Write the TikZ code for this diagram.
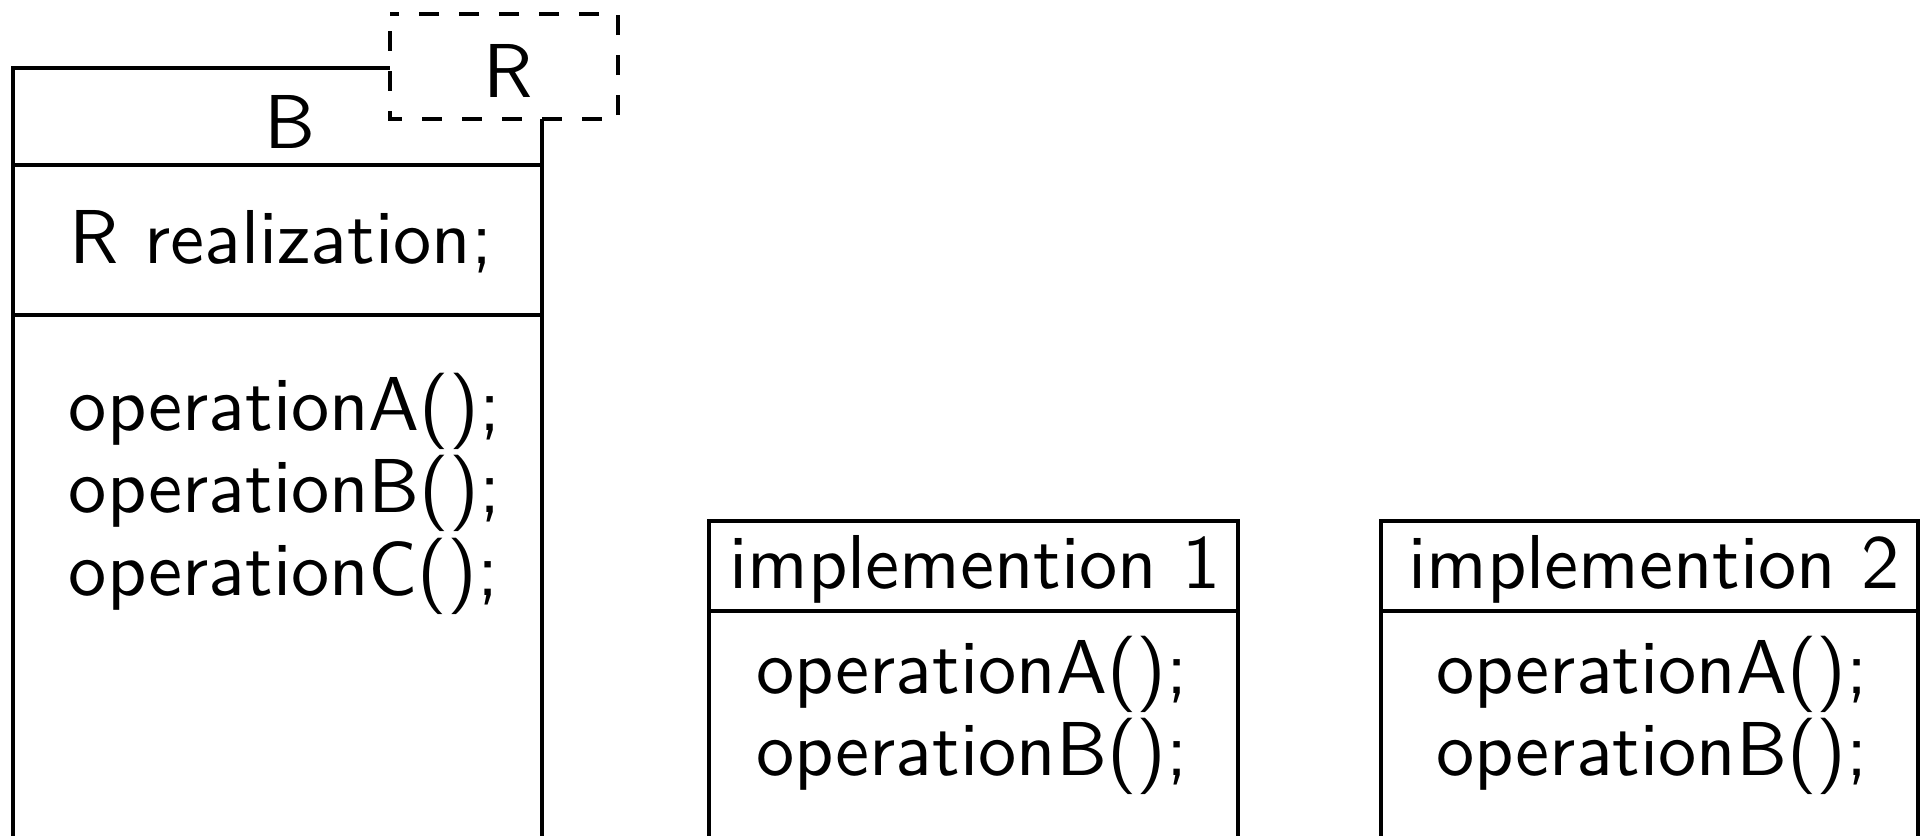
\documentclass[tikz,border=0pt]{standalone}
\usepackage{graphicx}
% labels are set with the 10pt sans design and enlarged
\newcommand{\umltext}[1]{\scalebox{1.91}{#1}}
\begin{document}
\begin{tikzpicture}[x=0.25pt,y=-0.25pt,
  frame/.style={line width=1.2pt},
  lbl/.style={inner sep=0pt,anchor=base,font=\fontsize{10}{12}\selectfont\sffamily},
  tmpl/.style={line width=1.2pt,dash pattern=on 5pt off 5pt,dash phase=5.75pt,fill=white}]
\useasboundingbox (0,0) rectangle (1924,835);
\clip (0,0) rectangle (1924,835);
% class B with its compartments
\draw[frame] (13,900) -- (13,68) -- (542,68) -- (542,900);
\draw[frame] (13,165) -- (542,165);
\draw[frame] (13,315) -- (542,315);
% template parameter box on the corner of B
\draw[tmpl] (390,14) rectangle (618,119);
\node[lbl] (rparam) at (508,97) {\umltext{R}};
\node[lbl] (bname) at (290,148) {\umltext{B}};
\node[lbl] (battr) at (281,263) {\umltext{R realization;}};
\node[lbl,anchor=base west] (bopa) at (68,430) {\umltext{operationA();}};
\node[lbl,anchor=base west] (bopb) at (68,512) {\umltext{operationB();}};
\node[lbl,anchor=base west] (bopc) at (68,595) {\umltext{operationC();}};
% implementation 1
\draw[frame] (709,900) -- (709,521) -- (1238,521) -- (1238,900);
\draw[frame] (709,611) -- (1238,611);
\node[lbl] (iname) at (975,588) {\umltext{implemention 1}};
\node[lbl] (iopa) at (972,693) {\umltext{operationA();}};
\node[lbl] (iopb) at (972,775) {\umltext{operationB();}};
% implementation 2
\draw[frame] (1381,900) -- (1381,521) -- (1918,521) -- (1918,900);
\draw[frame] (1381,611) -- (1918,611);
\node[lbl] (jname) at (1654,588) {\umltext{implemention 2}};
\node[lbl] (jopa) at (1652,693) {\umltext{operationA();}};
\node[lbl] (jopb) at (1652,775) {\umltext{operationB();}};
\end{tikzpicture}
\end{document}
